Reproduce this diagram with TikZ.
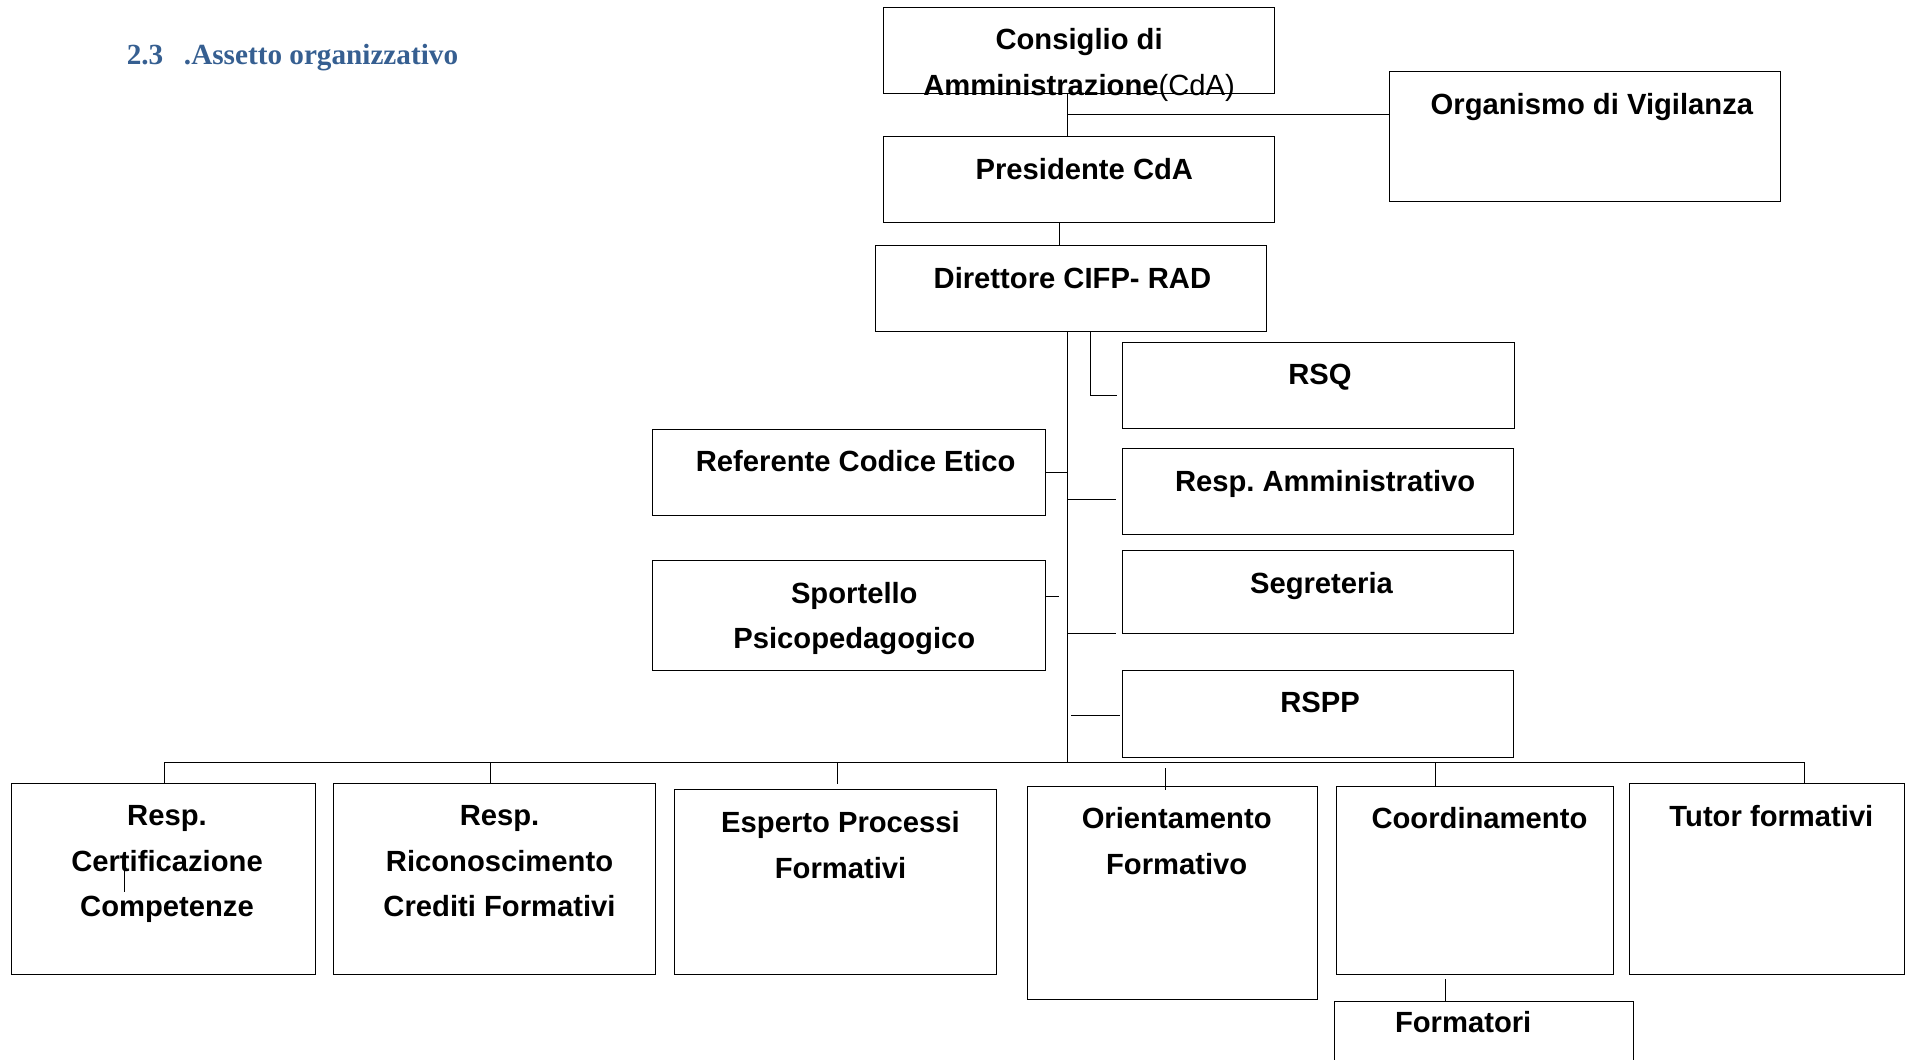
\documentclass[tikz,border=0pt]{standalone}
\usepackage{fontspec}
\setmainfont{Liberation Sans}
\newfontfamily\headfont{Liberation Serif}
\definecolor{headblue}{RGB}{54,95,145}
\frenchspacing

\begin{document}
\begin{tikzpicture}[x=1pt, y=1pt,
    unit/.style={draw, line width=0.8pt, anchor=north west,
        minimum width=321.6pt, minimum height=70.7pt,
        inner sep=0pt, outer sep=0pt},
    lbl/.style={anchor=north, inner sep=0pt, align=center,
        font=\fontsize{24}{37.5}\selectfont\bfseries,
        xshift=#1, yshift=-17.5pt},
    lbl/.default=4pt,
    link/.style={line width=0.8pt}
    ]
    \useasboundingbox (0,0) rectangle (1568,871);
    \node[anchor=base west, inner sep=0pt, text=headblue,
        font=\headfont\fontsize{24}{29}\selectfont\bfseries] (head) at (104,818)
        {2.3\hspace{17pt}.Assetto organizzativo};
    % vertice
    \node[unit, label={[lbl=0pt]north:Consiglio di\\Amministrazione{\mdseries(CdA)}}] (cda) at (726,865) {};
    \node[unit, minimum height=106.7pt,
        label={[lbl=5.5pt]north:Organismo di Vigilanza}] (odv) at (1141.9,812.1) {};
    \node[unit, label={[lbl=4.3pt]north:Presidente CdA}] (pres) at (726,758.7) {};
    \node[unit, minimum height=71pt,
        label={[lbl=1.4pt]north:Direttore CIFP- RAD}] (dir) at (719.1,669.4) {};
    % staff
    \node[unit, label={[lbl=1.4pt]north:RSQ}] (rsq) at (922.6,589.4) {};
    \node[unit, minimum width=322.5pt,
        label={[lbl=5.5pt]north:Referente Codice Etico}] (rce) at (536.5,518.2) {};
    \node[unit, label={[lbl=5.7pt]north:Resp. Amministrativo}] (ramm) at (922.5,502.1) {};
    \node[unit, minimum width=322.5pt, minimum height=90.3pt,
        label={[lbl=4.3pt]north:Sportello\\Psicopedagogico}] (spp) at (536.5,410.4) {};
    \node[unit, minimum height=68pt,
        label={[lbl=2.7pt]north:Segreteria}] (segr) at (922.5,418.7) {};
    \node[unit, minimum height=71.4pt,
        label={[lbl=1.5pt]north:RSPP}] (rspp) at (922.5,320.1) {};
    % aree
    \node[unit, minimum width=249.5pt, minimum height=156.7pt,
        label={[lbl=3pt]north:Resp.\\Certificazione\\Competenze}] (rcc) at (9.5,226.8) {};
    \node[unit, minimum width=265pt, minimum height=156.7pt,
        label={[lbl]north:Resp.\\Riconoscimento\\Crediti Formativi}] (rrcf) at (274,226.8) {};
    \node[unit, minimum width=264.5pt, minimum height=151.9pt,
        label={[lbl]north:Esperto Processi\\Formativi}] (epf) at (554.5,222) {};
    \node[unit, minimum width=238pt, minimum height=175.6pt,
        label={[lbl=3.5pt]north:Orientamento\\Formativo}] (orf) at (844.5,224.9) {};
    \node[unit, minimum width=228pt, minimum height=154.8pt,
        label={[lbl=3.8pt]north:Coordinamento}] (coord) at (1098,224.9) {};
    \node[unit, minimum width=226.5pt, minimum height=156.7pt,
        label={[lbl=3.5pt]north:Tutor formativi}] (tutor) at (1339,226.8) {};
    \node[unit, minimum width=245.5pt, minimum height=60pt,
        label={[lbl=-17.3pt, yshift=9.5pt]north:Formatori}] (form) at (1097,48) {};

    \coordinate (spine) at (877.4,0);
    \coordinate (odvjoin) at (877.4,776.5);
    \coordinate (busL) at (135.5,244.3);
    \coordinate (busR) at (1483,244.3);

    \draw[link] (cda.south -| spine) -- (pres.north -| spine);
    \draw[link] (odvjoin) -- (odvjoin -| odv.west);
    \draw[link] ([xshift=-16.3pt]pres.south) -- ([xshift=-16.3pt]pres.south |- dir.north);
    \draw[link] (dir.south -| spine) -- (busL -| spine);
    \draw[link] ([xshift=16.4pt]dir.south) |- ([xshift=-5pt,yshift=-7.7pt]rsq.west);
    \draw[link] (rce.east) -- (rce.east -| spine);
    \draw[link] ([yshift=-6.3pt]ramm.west -| spine) -- ([xshift=-5pt,yshift=-6.3pt]ramm.west);
    \draw[link] ([yshift=15.3pt]spp.east) -- ([xshift=11pt,yshift=15.3pt]spp.east);
    \draw[link] (segr.south west -| spine) -- ([xshift=-5pt]segr.south west);
    \draw[link] ([xshift=-42pt,yshift=-1.2pt]rspp.west) -- ([xshift=-2pt,yshift=-1.2pt]rspp.west);
    % barra inferiore
    \draw[link] (busL |- rcc.north) -- (busL) -- (busR) -- (busR |- tutor.north);
    \foreach \n/\s in {rrcf/-3.5pt, coord/-32pt}
        \draw[link] ([xshift=\s]\n.north |- busL) -- ([xshift=\s]\n.north);
    \draw[link] ([xshift=1.75pt]epf.north |- busL) -- ([xshift=1.75pt,yshift=4.8pt]epf.north);
    \draw[link] ([xshift=-5.5pt,yshift=14.7pt]orf.north) -- ([xshift=-5.5pt,yshift=-2.9pt]orf.north);
    \draw[link] ([xshift=-24.5pt,yshift=-4pt]coord.south) -- ([xshift=-24.5pt]coord.south |- form.north);
    \draw[link] ([xshift=-31.8pt,yshift=-71.8pt]rcc.north) -- ([xshift=-31.8pt,yshift=-88.8pt]rcc.north);
\end{tikzpicture}
\end{document}
